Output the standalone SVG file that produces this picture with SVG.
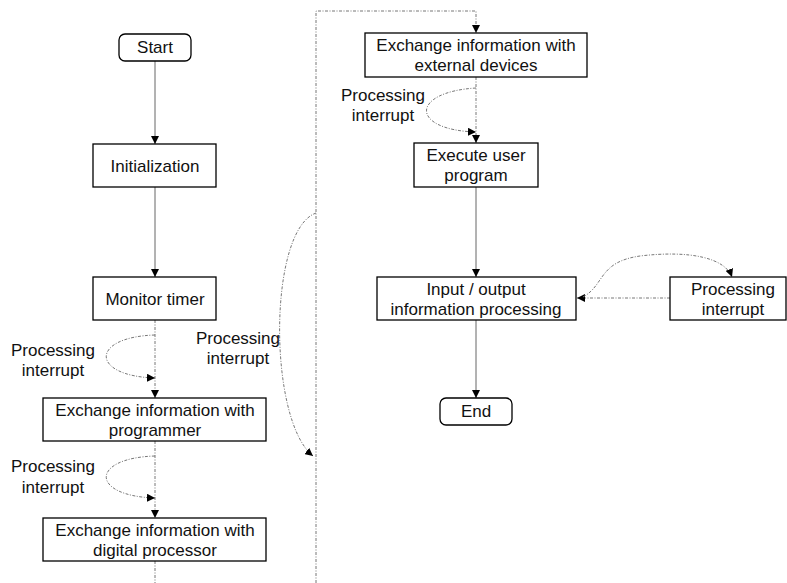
<svg xmlns="http://www.w3.org/2000/svg" width="787" height="583" viewBox="0 0 787 583">
<style>
.box{fill:#fff;stroke:#000;stroke-width:1.3}
.t{font-family:"Liberation Sans",Arial,sans-serif;font-size:17px;fill:#111;text-anchor:middle}
.s{fill:none;stroke:#666;stroke-width:1}
.d{fill:none;stroke:#777;stroke-width:1;stroke-dasharray:3 1.5 1 1.5}
</style>
<defs>
<marker id="a" viewBox="0 0 10 10" refX="10" refY="5" markerWidth="8" markerHeight="8" orient="auto" markerUnits="userSpaceOnUse">
<path d="M0,0 L10,5 L0,10 z" fill="#000"/>
</marker>
</defs>
<g id="connectors">
<path class="s" d="M155,61 V144" marker-end="url(#a)"/>
<path class="s" d="M155,187 V277" marker-end="url(#a)"/>
<path class="d" d="M155,320 V398" marker-end="url(#a)"/>
<path class="d" d="M155,335 C90,337 90,376 155,378" marker-end="url(#a)"/>
<path class="d" d="M155,441 V518" marker-end="url(#a)"/>
<path class="d" d="M155,456 C90,458 90,496 155,498" marker-end="url(#a)"/>
<path class="d" d="M155,561 V583"/>
<path class="d" d="M316,583 V11 H476 V33" marker-end="url(#a)"/>
<path class="d" d="M316,213 C268,230 268,420 313,456" marker-end="url(#a)"/>
<path class="d" d="M476,77 V143" marker-end="url(#a)"/>
<path class="d" d="M476,88 C410,92 410,130 476,132" marker-end="url(#a)"/>
<path class="s" d="M476,187 V277" marker-end="url(#a)"/>
<path class="s" d="M476,320 V398" marker-end="url(#a)"/>
<path class="d" d="M670,298 H577" marker-end="url(#a)"/>
<path class="d" d="M583,297 C605,285 598,262 640,256 C690,250 725,258 732,277" marker-end="url(#a)"/>
</g>
<g id="start"><rect class="box" x="119" y="34" width="72" height="27" rx="6"/><text class="t" x="155" y="53">Start</text></g>
<g id="init"><rect class="box" x="93" y="144" width="123" height="43"/><text class="t" x="155" y="172">Initialization</text></g>
<g id="monitor"><rect class="box" x="93" y="277" width="123" height="43"/><text class="t" x="155" y="305">Monitor timer</text></g>
<g id="prog"><rect class="box" x="43" y="398" width="223" height="43"/><text class="t" x="155" y="416">Exchange information with</text><text class="t" x="155" y="436">programmer</text></g>
<g id="dsp"><rect class="box" x="43" y="518" width="223" height="43"/><text class="t" x="155" y="536">Exchange information with</text><text class="t" x="155" y="556">digital processor</text></g>
<g id="ext"><rect class="box" x="365" y="33" width="222" height="44"/><text class="t" x="476" y="51">Exchange information with</text><text class="t" x="476" y="71">external devices</text></g>
<g id="exec"><rect class="box" x="414" y="143" width="124" height="44"/><text class="t" x="476" y="161">Execute user</text><text class="t" x="476" y="181">program</text></g>
<g id="io"><rect class="box" x="377" y="277" width="199" height="43"/><text class="t" x="476" y="295">Input / output</text><text class="t" x="476" y="315">information processing</text></g>
<g id="pint"><rect class="box" x="670" y="277" width="116" height="43"/><text class="t" x="733" y="295">Processing</text><text class="t" x="733" y="315">interrupt</text></g>
<g id="end"><rect class="box" x="440" y="398" width="72" height="27" rx="6"/><text class="t" x="476" y="417">End</text></g>
<g id="labels">
<text class="t" x="53" y="356">Processing</text><text class="t" x="53" y="376">interrupt</text>
<text class="t" x="53" y="472">Processing</text><text class="t" x="53" y="493">interrupt</text>
<text class="t" x="238" y="344">Processing</text><text class="t" x="238" y="364">interrupt</text>
<text class="t" x="383" y="101">Processing</text><text class="t" x="383" y="121">interrupt</text>
</g>
</svg>
